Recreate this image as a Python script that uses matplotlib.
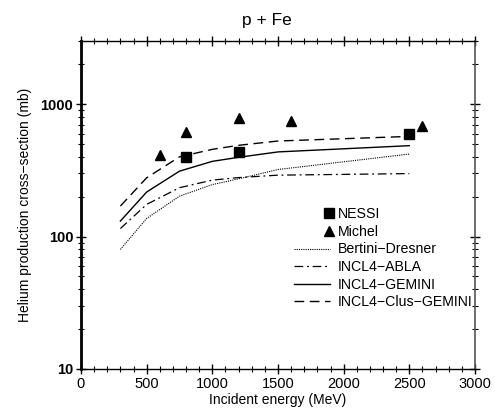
import numpy as np
import matplotlib
matplotlib.use('Agg')
import matplotlib.pyplot as plt
from matplotlib.legend_handler import HandlerLine2D
from matplotlib.ticker import MultipleLocator, FixedLocator, NullFormatter

plt.rcParams['font.family'] = ['Liberation Sans', 'DejaVu Sans']

# measured data
nessi_e = [800, 1200, 2500]
nessi_xs = [400, 438, 595]
michel_e = [600, 800, 1200, 1600, 2600]
michel_xs = [416, 612, 785, 741, 687]

# calculations
calc_e = [300, 500, 750, 1000, 1200, 1500, 2500]
bertini = [80, 137, 202, 247, 273, 321, 420]
abla = [115, 175, 234, 267, 279, 291, 299]
gemini = [131, 217, 312, 370, 397, 436, 486]
clus_gemini = [170, 278, 400, 456, 489, 527, 571]


class RightMarker(HandlerLine2D):
    # put the marker at the right end of the handle, next to the text
    def get_xdata(self, legend, xdescent, ydescent, width, height, fontsize):
        x = np.array([-xdescent + width - 0.05 * fontsize])
        return x, x


fig = plt.figure(figsize=(4.95, 4.08), dpi=100)
ax = fig.add_axes([0.1636, 0.0956, 0.796, 0.8039])

ax.plot(nessi_e, nessi_xs, 's', color='black', ms=6.5, label='NESSI', zorder=5)
ax.plot(michel_e, michel_xs, '^', color='black', ms=7.5, label='Michel', zorder=5)
ax.plot(calc_e, bertini, color='black', lw=0.8, ls=(0, (1, 1)), label='Bertini\u2212Dresner')
ax.plot(calc_e, abla, color='black', lw=0.9, ls=(0, (7, 3, 1.5, 3)), label='INCL4\u2212ABLA')
ax.plot(calc_e, gemini, color='black', lw=1.0, label='INCL4\u2212GEMINI')
ax.plot(calc_e, clus_gemini, color='black', lw=1.0, ls=(0, (7, 4)), label='INCL4\u2212Clus\u2212GEMINI')

ax.set_yscale('log')
ax.set_xlim(0, 3000)
ax.set_ylim(10, 3000)
ax.xaxis.set_major_locator(MultipleLocator(500))
ax.xaxis.set_minor_locator(MultipleLocator(100))
ax.yaxis.set_major_locator(FixedLocator([10, 100, 1000]))
ax.yaxis.set_minor_locator(FixedLocator([m * d for d in (10, 100, 1000) for m in range(2, 10)]))
ax.yaxis.set_minor_formatter(NullFormatter())
ax.set_yticklabels(['10', '100', '1000'], fontsize=10.5, fontweight='bold')
for lab in ax.get_xticklabels():
    lab.set_fontsize(10.5)

ax.tick_params(which='both', direction='inout', top=True, right=True, color='black')
ax.tick_params(which='major', length=7, width=1.0, pad=2)
ax.tick_params(which='minor', length=4, width=0.8)
ax.spines['left'].set_linewidth(2.0)
ax.spines['bottom'].set_linewidth(1.0)
ax.spines['top'].set_linewidth(1.0)
ax.spines['right'].set_linewidth(1.2)
ax.spines['right'].set_color('#555555')

ax.set_xlabel('Incident energy (MeV)', fontsize=10, labelpad=2)
ax.set_ylabel('Helium production cross\u2212section (mb)', fontsize=10, labelpad=6)
fig.text(0.54, 0.95, 'p + Fe', fontsize=12.5, ha='center', va='center')

h, l = ax.get_legend_handles_labels()
ax.legend(h, l, loc='upper left', bbox_to_anchor=(0.527, 0.51), frameon=False,
          fontsize=10.2, handlelength=2.5, handletextpad=0.6, labelspacing=0.25,
          borderaxespad=0, numpoints=1,
          handler_map={h[0]: RightMarker(), h[1]: RightMarker()})

fig.savefig('out.png', dpi=100)
